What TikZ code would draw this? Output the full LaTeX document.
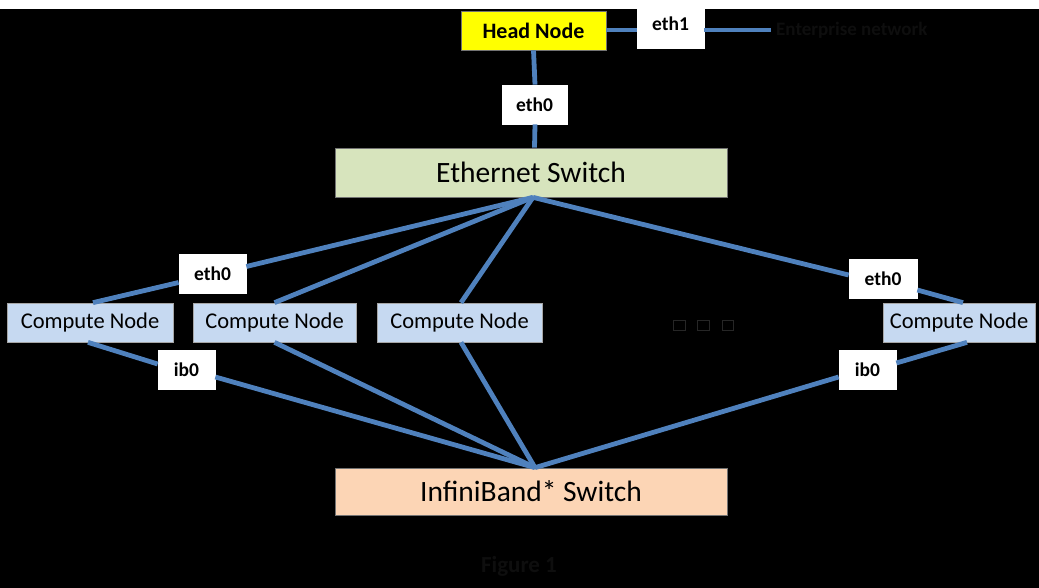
\documentclass[tikz,border=0pt]{standalone}
\usepackage{fontspec}
\setmainfont{Carlito}
\usetikzlibrary{calc}
\definecolor{linkblue}{HTML}{4F81BD}
\definecolor{headyellow}{HTML}{FFFF00}
\definecolor{ethgreen}{HTML}{D7E4BD}
\definecolor{ibpeach}{HTML}{FCD5B5}
\definecolor{cnblue}{HTML}{C6D9F1}
\definecolor{hiddentext}{HTML}{0E0E0E}
\definecolor{dotgray}{HTML}{262626}
\tikzset{
  box/.style={rectangle, inner sep=0pt, draw=black!55, line width=0.7pt, text=black},
  headbox/.style={box, fill=headyellow, minimum width=145pt, minimum height=39pt, font=\fontsize{22}{25}\selectfont\bfseries},
  portbox/.style={box, fill=white, draw=white, minimum height=39pt, font=\fontsize{19.5}{22}\selectfont\bfseries},
  switchbox/.style={box, minimum width=392pt, font=\fontsize{29.5}{33}\selectfont},
  cnbox/.style={box, fill=cnblue, draw=black!35, minimum height=39pt, font=\fontsize{22.5}{25}\selectfont},
  link/.style={draw=linkblue, line width=4.8pt},
  dimtext/.style={text=hiddentext, inner sep=0pt}
}
\begin{document}
\begin{tikzpicture}[x=1pt,y=-1pt]
\useasboundingbox (0,0) rectangle (1039,588);
\fill[white] (0,0) rectangle (1039,9);
\fill[black] (0,9) rectangle (1039,588);

% nodes
\node[headbox] (head) at (533.5,30.5) {Head Node};
\node[portbox, minimum width=67pt, minimum height=48pt] (eth1) at (670.5,24) {eth1};
\node[dimtext, anchor=west, font=\fontsize{19}{22}\selectfont\bfseries] (pub) at (776,30) {Enterprise network};
\coordinate (pubend) at (771,30);
\node[portbox, minimum width=65pt] (e0top) at (534.5,104.5) {eth0};
\node[switchbox, fill=ethgreen, minimum height=49pt] (esw) at (531,172.5) {Ethernet Switch};

\node[portbox, minimum width=67pt] (e0L) at (212.5,273.5) {eth0};
\node[portbox, minimum width=68pt] (e0R) at (883,278.5) {eth0};

\node[cnbox, minimum width=166pt] (cn1) at (90,322.5) {Compute Node};
\node[cnbox, minimum width=163pt] (cn2) at (274.5,322.5) {Compute Node};
\node[cnbox, minimum width=165pt] (cn3) at (459.5,322.5) {Compute Node};
\node[cnbox, minimum width=152pt] (cn5) at (959,322.5) {Compute Node};

\node[portbox, minimum width=57pt] (ibL) at (186.5,369.5) {ib0};
\node[portbox, minimum width=57pt] (ibR) at (867.5,370) {ib0};

\node[switchbox, fill=ibpeach, minimum height=47pt] (isw) at (531,491.5) {InfiniBand* Switch};

\node[dimtext, font=\fontsize{23}{26}\selectfont\bfseries] (fig) at (519,566) {Figure 1};

% ellipsis marks
\draw[draw=dotgray, line width=0.8pt] (673,320) rectangle (685,330);
\draw[draw=dotgray, line width=0.8pt] (697,320) rectangle (709,330);
\draw[draw=dotgray, line width=0.8pt] (722,320) rectangle (733,330);

% hubs
\coordinate (ehub) at ([xshift=2pt]esw.south);
\coordinate (ihub) at ([xshift=4pt]isw.north);

% connectors
\draw[link] ([yshift=0.5pt]head.east) -- ([yshift=-6pt]eth1.west);
\draw[link] ([yshift=-6pt]eth1.east) -- (pubend);
\draw[link] (head.south) -- ([xshift=0.5pt]e0top.north);
\draw[link] ([xshift=0.5pt]e0top.south) -- ([xshift=3.5pt]esw.north);

\draw[link] (ehub) -- ([yshift=7pt]e0L.east);
\draw[link] ([yshift=-9pt]e0L.west) -- ([xshift=3pt]cn1.north);
\draw[link] (ehub) -- (cn2.north);
\draw[link] (ehub) -- ([xshift=1.5pt]cn3.north);
\draw[link] (ehub) -- ([yshift=3.5pt]e0R.west);
\draw[link] ([yshift=-11.5pt]e0R.east) -- ([xshift=4pt]cn5.north);

\draw[link] ([xshift=-2pt]cn1.south) -- ([yshift=5.5pt]ibL.west);
\draw[link] ([yshift=-7.5pt]ibL.east) -- (ihub);
\draw[link] (cn2.south) -- (ihub);
\draw[link] ([xshift=1.5pt]cn3.south) -- (ihub);
\draw[link] ([xshift=8pt]cn5.south) -- ([yshift=7pt]ibR.east);
\draw[link] ([yshift=-7pt]ibR.west) -- (ihub);
\end{tikzpicture}
\end{document}
